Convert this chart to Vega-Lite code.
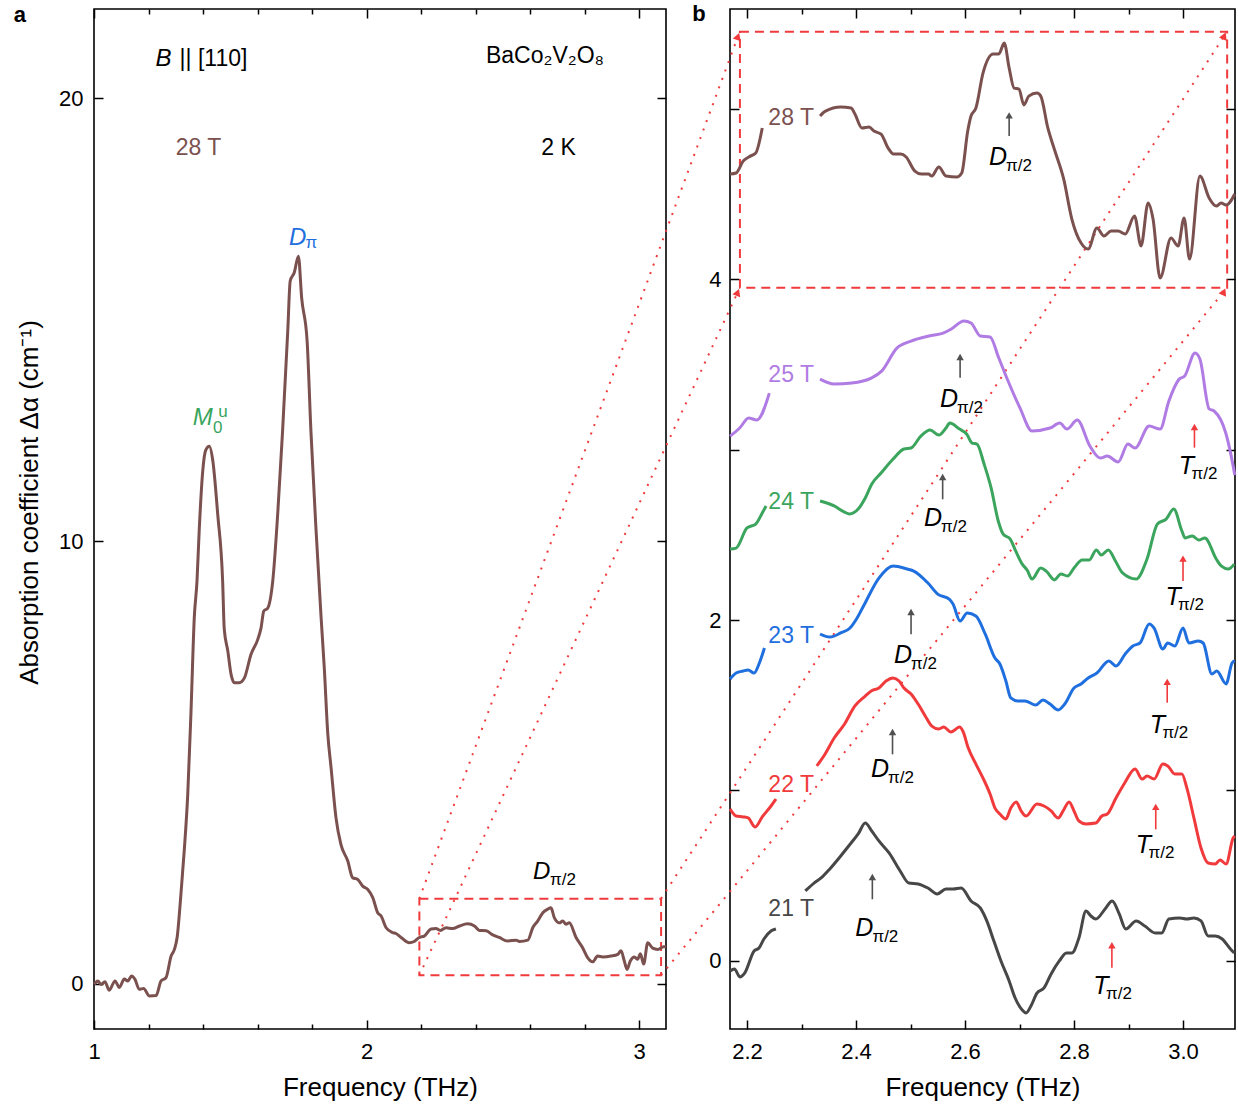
{
"$schema":"https://vega.github.io/schema/vega-lite/v6.json",
"background":"white",
"padding":{"left":13,"top":2,"right":2,"bottom":2},
"bounds":"flush",
"spacing":64,
"config":{
 "font":"Liberation Sans",
 "view":{"stroke":"#000000","strokeWidth":1.6},
 "axis":{"domain":false,"grid":false,"ticks":true,"tickSize":-9,"tickWidth":1.5,"tickColor":"#000000","labelFont":"Liberation Sans","labelFontSize":22,"labelColor":"#000000","labelFlush":false,"labelOverlap":false,"titleFont":"Liberation Sans","titleFontSize":26,"titleFontWeight":"normal","titleColor":"#000000"},
 "text":{"font":"Liberation Sans"}
},
"datasets":{
 "a":[
  {"f":1.001,"v":-0.01},{"f":1.014,"v":0.07},{"f":1.026,"v":-0.01},{"f":1.040,"v":0.05},{"f":1.056,"v":-0.14},{"f":1.077,"v":0.07},{"f":1.093,"v":-0.08},{"f":1.111,"v":0.11},{"f":1.124,"v":0.07},{"f":1.138,"v":0.18},{"f":1.150,"v":0.11},{"f":1.166,"v":-0.12},{"f":1.182,"v":-0.10},{"f":1.203,"v":-0.27},{"f":1.228,"v":-0.26},{"f":1.246,"v":0.07},{"f":1.264,"v":0.14},{"f":1.283,"v":0.63},{"f":1.295,"v":0.78},{"f":1.305,"v":1.05},{"f":1.319,"v":2.03},{"f":1.331,"v":3.00},{"f":1.344,"v":4.28},{"f":1.356,"v":6.16},{"f":1.368,"v":8.27},{"f":1.378,"v":9.1},{"f":1.386,"v":10.23},{"f":1.399,"v":11.58},{"f":1.410,"v":12.05},{"f":1.423,"v":12.14},{"f":1.436,"v":11.81},{"f":1.454,"v":10.60},{"f":1.472,"v":9.10},{"f":1.478,"v":8.01},{"f":1.491,"v":7.52},{"f":1.503,"v":6.99},{"f":1.515,"v":6.80},{"f":1.533,"v":6.80},{"f":1.552,"v":6.91},{"f":1.576,"v":7.44},{"f":1.601,"v":7.78},{"f":1.613,"v":8.04},{"f":1.623,"v":8.42},{"f":1.637,"v":8.48},{"f":1.656,"v":9.10},{"f":1.674,"v":10.60},{"f":1.692,"v":12.48},{"f":1.711,"v":14.74},{"f":1.720,"v":15.87},{"f":1.735,"v":16.06},{"f":1.750,"v":16.43},{"f":1.762,"v":15.49},{"f":1.782,"v":14.52},{"f":1.796,"v":12.48},{"f":1.815,"v":10.23},{"f":1.833,"v":8.31},{"f":1.845,"v":7.14},{"f":1.858,"v":5.64},{"f":1.870,"v":4.88},{"f":1.888,"v":3.75},{"f":1.906,"v":3.15},{"f":1.931,"v":2.78},{"f":1.949,"v":2.40},{"f":1.968,"v":2.36},{"f":1.986,"v":2.21},{"f":2.004,"v":2.14},{"f":2.023,"v":1.95},{"f":2.041,"v":1.61},{"f":2.053,"v":1.54},{"f":2.072,"v":1.27},{"f":2.096,"v":1.16},{"f":2.108,"v":1.14},{"f":2.127,"v":1.05},{"f":2.157,"v":0.93},{"f":2.175,"v":0.96},{"f":2.194,"v":1.05},{"f":2.212,"v":1.08},{"f":2.237,"v":1.24},{"f":2.255,"v":1.25},{"f":2.271,"v":1.21},{"f":2.292,"v":1.27},{"f":2.316,"v":1.25},{"f":2.341,"v":1.31},{"f":2.371,"v":1.36},{"f":2.396,"v":1.31},{"f":2.414,"v":1.21},{"f":2.439,"v":1.20},{"f":2.463,"v":1.11},{"f":2.487,"v":1.05},{"f":2.518,"v":0.97},{"f":2.549,"v":0.99},{"f":2.561,"v":0.96},{"f":2.592,"v":0.99},{"f":2.610,"v":1.27},{"f":2.628,"v":1.42},{"f":2.647,"v":1.61},{"f":2.665,"v":1.69},{"f":2.677,"v":1.72},{"f":2.689,"v":1.50},{"f":2.708,"v":1.38},{"f":2.720,"v":1.42},{"f":2.732,"v":1.35},{"f":2.744,"v":1.38},{"f":2.769,"v":1.05},{"f":2.793,"v":0.82},{"f":2.812,"v":0.59},{"f":2.830,"v":0.50},{"f":2.848,"v":0.63},{"f":2.867,"v":0.61},{"f":2.897,"v":0.63},{"f":2.922,"v":0.67},{"f":2.934,"v":0.75},{"f":2.946,"v":0.52},{"f":2.956,"v":0.33},{"f":2.968,"v":0.52},{"f":2.983,"v":0.61},{"f":2.995,"v":0.56},{"f":3.005,"v":0.68},{"f":3.017,"v":0.45},{"f":3.032,"v":0.93},{"f":3.050,"v":0.81},{"f":3.069,"v":0.78},{"f":3.090,"v":0.84},{"f":3.099,"v":0.84}
 ],
 "b":[
  {"B":"28 T","s":1,"f":2.169,"v":4.616},{"B":"28 T","s":1,"f":2.180,"v":4.622},{"B":"28 T","s":1,"f":2.193,"v":4.692},{"B":"28 T","s":1,"f":2.206,"v":4.721},{"B":"28 T","s":1,"f":2.216,"v":4.739},{"B":"28 T","s":1,"f":2.228,"v":4.886},
  {"B":"28 T","s":2,"f":2.334,"v":4.956},{"B":"28 T","s":2,"f":2.344,"v":4.985},{"B":"28 T","s":2,"f":2.372,"v":5.009},{"B":"28 T","s":2,"f":2.391,"v":5.003},{"B":"28 T","s":2,"f":2.398,"v":4.968},{"B":"28 T","s":2,"f":2.411,"v":4.886},{"B":"28 T","s":2,"f":2.424,"v":4.892},{"B":"28 T","s":2,"f":2.433,"v":4.868},{"B":"28 T","s":2,"f":2.446,"v":4.850},{"B":"28 T","s":2,"f":2.459,"v":4.768},{"B":"28 T","s":2,"f":2.469,"v":4.733},{"B":"28 T","s":2,"f":2.482,"v":4.733},{"B":"28 T","s":2,"f":2.492,"v":4.716},{"B":"28 T","s":2,"f":2.508,"v":4.633},{"B":"28 T","s":2,"f":2.520,"v":4.616},{"B":"28 T","s":2,"f":2.533,"v":4.616},{"B":"28 T","s":2,"f":2.539,"v":4.604},{"B":"28 T","s":2,"f":2.552,"v":4.657},{"B":"28 T","s":2,"f":2.565,"v":4.604},{"B":"28 T","s":2,"f":2.585,"v":4.598},{"B":"28 T","s":2,"f":2.594,"v":4.622},{"B":"28 T","s":2,"f":2.605,"v":4.868},{"B":"28 T","s":2,"f":2.611,"v":4.956},{"B":"28 T","s":2,"f":2.620,"v":5.003},{"B":"28 T","s":2,"f":2.633,"v":5.208},{"B":"28 T","s":2,"f":2.652,"v":5.320},{"B":"28 T","s":2,"f":2.662,"v":5.320},{"B":"28 T","s":2,"f":2.672,"v":5.384},{"B":"28 T","s":2,"f":2.681,"v":5.238},{"B":"28 T","s":2,"f":2.690,"v":5.120},{"B":"28 T","s":2,"f":2.699,"v":5.114},{"B":"28 T","s":2,"f":2.708,"v":5.021},{"B":"28 T","s":2,"f":2.717,"v":5.073},{"B":"28 T","s":2,"f":2.732,"v":5.091},{"B":"28 T","s":2,"f":2.739,"v":5.073},{"B":"28 T","s":2,"f":2.752,"v":4.886},{"B":"28 T","s":2,"f":2.765,"v":4.751},{"B":"28 T","s":2,"f":2.781,"v":4.587},{"B":"28 T","s":2,"f":2.796,"v":4.352},{"B":"28 T","s":2,"f":2.813,"v":4.211},{"B":"28 T","s":2,"f":2.826,"v":4.176},{"B":"28 T","s":2,"f":2.842,"v":4.299},{"B":"28 T","s":2,"f":2.855,"v":4.252},{"B":"28 T","s":2,"f":2.868,"v":4.282},{"B":"28 T","s":2,"f":2.881,"v":4.282},{"B":"28 T","s":2,"f":2.894,"v":4.264},{"B":"28 T","s":2,"f":2.911,"v":4.370},{"B":"28 T","s":2,"f":2.923,"v":4.194},{"B":"28 T","s":2,"f":2.936,"v":4.446},{"B":"28 T","s":2,"f":2.945,"v":4.352},{"B":"28 T","s":2,"f":2.958,"v":4.006},{"B":"28 T","s":2,"f":2.978,"v":4.241},{"B":"28 T","s":2,"f":2.991,"v":4.194},{"B":"28 T","s":2,"f":3.002,"v":4.358},{"B":"28 T","s":2,"f":3.012,"v":4.117},{"B":"28 T","s":2,"f":3.031,"v":4.604},{"B":"28 T","s":2,"f":3.048,"v":4.475},{"B":"28 T","s":2,"f":3.061,"v":4.428},{"B":"28 T","s":2,"f":3.070,"v":4.446},{"B":"28 T","s":2,"f":3.079,"v":4.434},{"B":"28 T","s":2,"f":3.095,"v":4.499},
  {"B":"25 T","s":1,"f":2.169,"v":3.079},{"B":"25 T","s":1,"f":2.187,"v":3.128},{"B":"25 T","s":1,"f":2.203,"v":3.185},{"B":"25 T","s":1,"f":2.218,"v":3.173},{"B":"25 T","s":1,"f":2.241,"v":3.331},
  {"B":"25 T","s":2,"f":2.334,"v":3.413},{"B":"25 T","s":2,"f":2.360,"v":3.384},{"B":"25 T","s":2,"f":2.392,"v":3.390},{"B":"25 T","s":2,"f":2.428,"v":3.419},{"B":"25 T","s":2,"f":2.447,"v":3.460},{"B":"25 T","s":2,"f":2.475,"v":3.595},{"B":"25 T","s":2,"f":2.501,"v":3.636},{"B":"25 T","s":2,"f":2.534,"v":3.666},{"B":"25 T","s":2,"f":2.560,"v":3.683},{"B":"25 T","s":2,"f":2.575,"v":3.707},{"B":"25 T","s":2,"f":2.598,"v":3.754},{"B":"25 T","s":2,"f":2.611,"v":3.742},{"B":"25 T","s":2,"f":2.628,"v":3.666},{"B":"25 T","s":2,"f":2.646,"v":3.660},{"B":"25 T","s":2,"f":2.662,"v":3.537},{"B":"25 T","s":2,"f":2.679,"v":3.402},{"B":"25 T","s":2,"f":2.701,"v":3.243},{"B":"25 T","s":2,"f":2.723,"v":3.109},{"B":"25 T","s":2,"f":2.756,"v":3.126},{"B":"25 T","s":2,"f":2.774,"v":3.155},{"B":"25 T","s":2,"f":2.787,"v":3.120},{"B":"25 T","s":2,"f":2.806,"v":3.173},{"B":"25 T","s":2,"f":2.829,"v":3.021},{"B":"25 T","s":2,"f":2.848,"v":2.950},{"B":"25 T","s":2,"f":2.861,"v":2.962},{"B":"25 T","s":2,"f":2.881,"v":2.927},{"B":"25 T","s":2,"f":2.899,"v":3.032},{"B":"25 T","s":2,"f":2.912,"v":3.009},{"B":"25 T","s":2,"f":2.938,"v":3.138},{"B":"25 T","s":2,"f":2.958,"v":3.120},{"B":"25 T","s":2,"f":2.974,"v":3.284},{"B":"25 T","s":2,"f":2.993,"v":3.413},{"B":"25 T","s":2,"f":3.003,"v":3.431},{"B":"25 T","s":2,"f":3.022,"v":3.566},{"B":"25 T","s":2,"f":3.031,"v":3.531},{"B":"25 T","s":2,"f":3.048,"v":3.238},{"B":"25 T","s":2,"f":3.057,"v":3.226},{"B":"25 T","s":2,"f":3.079,"v":3.091},{"B":"25 T","s":2,"f":3.092,"v":2.903},{"B":"25 T","s":2,"f":3.095,"v":2.85},
  {"B":"24 T","s":1,"f":2.169,"v":2.416},{"B":"24 T","s":1,"f":2.180,"v":2.422},{"B":"24 T","s":1,"f":2.200,"v":2.540},{"B":"24 T","s":1,"f":2.216,"v":2.563},{"B":"24 T","s":1,"f":2.228,"v":2.628},{"B":"24 T","s":1,"f":2.235,"v":2.669},
  {"B":"24 T","s":2,"f":2.334,"v":2.698},{"B":"24 T","s":2,"f":2.360,"v":2.669},{"B":"24 T","s":2,"f":2.379,"v":2.633},{"B":"24 T","s":2,"f":2.388,"v":2.622},{"B":"24 T","s":2,"f":2.404,"v":2.651},{"B":"24 T","s":2,"f":2.417,"v":2.716},{"B":"24 T","s":2,"f":2.429,"v":2.798},{"B":"24 T","s":2,"f":2.446,"v":2.862},{"B":"24 T","s":2,"f":2.468,"v":2.944},{"B":"24 T","s":2,"f":2.488,"v":3.003},{"B":"24 T","s":2,"f":2.501,"v":3.009},{"B":"24 T","s":2,"f":2.519,"v":3.079},{"B":"24 T","s":2,"f":2.536,"v":3.114},{"B":"24 T","s":2,"f":2.552,"v":3.085},{"B":"24 T","s":2,"f":2.565,"v":3.126},{"B":"24 T","s":2,"f":2.572,"v":3.155},{"B":"24 T","s":2,"f":2.590,"v":3.120},{"B":"24 T","s":2,"f":2.603,"v":3.091},{"B":"24 T","s":2,"f":2.613,"v":3.038},{"B":"24 T","s":2,"f":2.622,"v":3.032},{"B":"24 T","s":2,"f":2.635,"v":2.915},{"B":"24 T","s":2,"f":2.648,"v":2.774},{"B":"24 T","s":2,"f":2.661,"v":2.581},{"B":"24 T","s":2,"f":2.670,"v":2.504},{"B":"24 T","s":2,"f":2.683,"v":2.475},{"B":"24 T","s":2,"f":2.693,"v":2.405},{"B":"24 T","s":2,"f":2.705,"v":2.328},{"B":"24 T","s":2,"f":2.714,"v":2.293},{"B":"24 T","s":2,"f":2.723,"v":2.240},{"B":"24 T","s":2,"f":2.739,"v":2.305},{"B":"24 T","s":2,"f":2.749,"v":2.287},{"B":"24 T","s":2,"f":2.764,"v":2.235},{"B":"24 T","s":2,"f":2.776,"v":2.270},{"B":"24 T","s":2,"f":2.788,"v":2.258},{"B":"24 T","s":2,"f":2.800,"v":2.305},{"B":"24 T","s":2,"f":2.815,"v":2.352},{"B":"24 T","s":2,"f":2.828,"v":2.352},{"B":"24 T","s":2,"f":2.841,"v":2.411},{"B":"24 T","s":2,"f":2.850,"v":2.381},{"B":"24 T","s":2,"f":2.863,"v":2.411},{"B":"24 T","s":2,"f":2.876,"v":2.346},{"B":"24 T","s":2,"f":2.889,"v":2.276},{"B":"24 T","s":2,"f":2.914,"v":2.240},{"B":"24 T","s":2,"f":2.934,"v":2.358},{"B":"24 T","s":2,"f":2.953,"v":2.563},{"B":"24 T","s":2,"f":2.969,"v":2.592},{"B":"24 T","s":2,"f":2.983,"v":2.651},{"B":"24 T","s":2,"f":2.998,"v":2.522},{"B":"24 T","s":2,"f":3.004,"v":2.481},{"B":"24 T","s":2,"f":3.017,"v":2.493},{"B":"24 T","s":2,"f":3.029,"v":2.469},{"B":"24 T","s":2,"f":3.040,"v":2.481},{"B":"24 T","s":2,"f":3.061,"v":2.358},{"B":"24 T","s":2,"f":3.070,"v":2.317},{"B":"24 T","s":2,"f":3.083,"v":2.299},{"B":"24 T","s":2,"f":3.094,"v":2.328},
  {"B":"23 T","s":1,"f":2.169,"v":1.654},{"B":"23 T","s":1,"f":2.180,"v":1.689},{"B":"23 T","s":1,"f":2.193,"v":1.701},{"B":"23 T","s":1,"f":2.202,"v":1.707},{"B":"23 T","s":1,"f":2.213,"v":1.689},{"B":"23 T","s":1,"f":2.222,"v":1.742},{"B":"23 T","s":1,"f":2.232,"v":1.836},
  {"B":"23 T","s":2,"f":2.334,"v":1.918},{"B":"23 T","s":2,"f":2.352,"v":1.900},{"B":"23 T","s":2,"f":2.372,"v":1.924},{"B":"23 T","s":2,"f":2.389,"v":1.953},{"B":"23 T","s":2,"f":2.402,"v":2.012},{"B":"23 T","s":2,"f":2.415,"v":2.090},{"B":"23 T","s":2,"f":2.442,"v":2.246},{"B":"23 T","s":2,"f":2.468,"v":2.317},{"B":"23 T","s":2,"f":2.494,"v":2.299},{"B":"23 T","s":2,"f":2.506,"v":2.287},{"B":"23 T","s":2,"f":2.532,"v":2.217},{"B":"23 T","s":2,"f":2.550,"v":2.152},{"B":"23 T","s":2,"f":2.571,"v":2.123},{"B":"23 T","s":2,"f":2.578,"v":2.094},{"B":"23 T","s":2,"f":2.591,"v":1.994},{"B":"23 T","s":2,"f":2.604,"v":2.041},{"B":"23 T","s":2,"f":2.620,"v":2.023},{"B":"23 T","s":2,"f":2.637,"v":1.918},{"B":"23 T","s":2,"f":2.655,"v":1.777},{"B":"23 T","s":2,"f":2.664,"v":1.742},{"B":"23 T","s":2,"f":2.675,"v":1.642},{"B":"23 T","s":2,"f":2.684,"v":1.543},{"B":"23 T","s":2,"f":2.697,"v":1.525},{"B":"23 T","s":2,"f":2.710,"v":1.525},{"B":"23 T","s":2,"f":2.730,"v":1.501},{"B":"23 T","s":2,"f":2.743,"v":1.531},{"B":"23 T","s":2,"f":2.756,"v":1.507},{"B":"23 T","s":2,"f":2.771,"v":1.472},{"B":"23 T","s":2,"f":2.783,"v":1.507},{"B":"23 T","s":2,"f":2.800,"v":1.601},{"B":"23 T","s":2,"f":2.813,"v":1.625},{"B":"23 T","s":2,"f":2.826,"v":1.660},{"B":"23 T","s":2,"f":2.842,"v":1.689},{"B":"23 T","s":2,"f":2.864,"v":1.760},{"B":"23 T","s":2,"f":2.877,"v":1.730},{"B":"23 T","s":2,"f":2.894,"v":1.801},{"B":"23 T","s":2,"f":2.908,"v":1.848},{"B":"23 T","s":2,"f":2.921,"v":1.865},{"B":"23 T","s":2,"f":2.938,"v":1.977},{"B":"23 T","s":2,"f":2.947,"v":1.953},{"B":"23 T","s":2,"f":2.963,"v":1.830},{"B":"23 T","s":2,"f":2.972,"v":1.865},{"B":"23 T","s":2,"f":2.985,"v":1.848},{"B":"23 T","s":2,"f":3.000,"v":1.953},{"B":"23 T","s":2,"f":3.011,"v":1.865},{"B":"23 T","s":2,"f":3.028,"v":1.877},{"B":"23 T","s":2,"f":3.037,"v":1.865},{"B":"23 T","s":2,"f":3.053,"v":1.683},{"B":"23 T","s":2,"f":3.062,"v":1.701},{"B":"23 T","s":2,"f":3.079,"v":1.625},{"B":"23 T","s":2,"f":3.090,"v":1.748},{"B":"23 T","s":2,"f":3.095,"v":1.760},
  {"B":"22 T","s":1,"f":2.169,"v":0.891},{"B":"22 T","s":1,"f":2.180,"v":0.850},{"B":"22 T","s":1,"f":2.193,"v":0.845},{"B":"22 T","s":1,"f":2.202,"v":0.839},{"B":"22 T","s":1,"f":2.215,"v":0.786},{"B":"22 T","s":1,"f":2.228,"v":0.845},{"B":"22 T","s":1,"f":2.244,"v":0.909},{"B":"22 T","s":1,"f":2.253,"v":0.950},
  {"B":"22 T","s":2,"f":2.328,"v":1.144},{"B":"22 T","s":2,"f":2.341,"v":1.202},{"B":"22 T","s":2,"f":2.360,"v":1.308},{"B":"22 T","s":2,"f":2.379,"v":1.390},{"B":"22 T","s":2,"f":2.398,"v":1.496},{"B":"22 T","s":2,"f":2.417,"v":1.554},{"B":"22 T","s":2,"f":2.428,"v":1.584},{"B":"22 T","s":2,"f":2.442,"v":1.601},{"B":"22 T","s":2,"f":2.455,"v":1.642},{"B":"22 T","s":2,"f":2.468,"v":1.660},{"B":"22 T","s":2,"f":2.479,"v":1.642},{"B":"22 T","s":2,"f":2.488,"v":1.601},{"B":"22 T","s":2,"f":2.501,"v":1.566},{"B":"22 T","s":2,"f":2.514,"v":1.507},{"B":"22 T","s":2,"f":2.527,"v":1.437},{"B":"22 T","s":2,"f":2.539,"v":1.378},{"B":"22 T","s":2,"f":2.552,"v":1.361},{"B":"22 T","s":2,"f":2.561,"v":1.372},{"B":"22 T","s":2,"f":2.574,"v":1.343},{"B":"22 T","s":2,"f":2.590,"v":1.372},{"B":"22 T","s":2,"f":2.596,"v":1.349},{"B":"22 T","s":2,"f":2.606,"v":1.249},{"B":"22 T","s":2,"f":2.620,"v":1.155},{"B":"22 T","s":2,"f":2.633,"v":1.073},{"B":"22 T","s":2,"f":2.646,"v":0.979},{"B":"22 T","s":2,"f":2.655,"v":0.897},{"B":"22 T","s":2,"f":2.664,"v":0.862},{"B":"22 T","s":2,"f":2.675,"v":0.833},{"B":"22 T","s":2,"f":2.684,"v":0.897},{"B":"22 T","s":2,"f":2.694,"v":0.933},{"B":"22 T","s":2,"f":2.703,"v":0.880},{"B":"22 T","s":2,"f":2.712,"v":0.850},{"B":"22 T","s":2,"f":2.732,"v":0.921},{"B":"22 T","s":2,"f":2.745,"v":0.909},{"B":"22 T","s":2,"f":2.758,"v":0.880},{"B":"22 T","s":2,"f":2.771,"v":0.839},{"B":"22 T","s":2,"f":2.780,"v":0.880},{"B":"22 T","s":2,"f":2.791,"v":0.933},{"B":"22 T","s":2,"f":2.800,"v":0.880},{"B":"22 T","s":2,"f":2.809,"v":0.821},{"B":"22 T","s":2,"f":2.822,"v":0.804},{"B":"22 T","s":2,"f":2.840,"v":0.809},{"B":"22 T","s":2,"f":2.851,"v":0.850},{"B":"22 T","s":2,"f":2.861,"v":0.862},{"B":"22 T","s":2,"f":2.877,"v":0.956},{"B":"22 T","s":2,"f":2.893,"v":1.044},{"B":"22 T","s":2,"f":2.912,"v":1.126},{"B":"22 T","s":2,"f":2.925,"v":1.067},{"B":"22 T","s":2,"f":2.934,"v":1.085},{"B":"22 T","s":2,"f":2.947,"v":1.067},{"B":"22 T","s":2,"f":2.963,"v":1.155},{"B":"22 T","s":2,"f":2.972,"v":1.144},{"B":"22 T","s":2,"f":2.985,"v":1.097},{"B":"22 T","s":2,"f":2.998,"v":1.097},{"B":"22 T","s":2,"f":3.007,"v":1.015},{"B":"22 T","s":2,"f":3.020,"v":0.839},{"B":"22 T","s":2,"f":3.033,"v":0.663},{"B":"22 T","s":2,"f":3.046,"v":0.575},{"B":"22 T","s":2,"f":3.059,"v":0.569},{"B":"22 T","s":2,"f":3.068,"v":0.592},{"B":"22 T","s":2,"f":3.079,"v":0.569},{"B":"22 T","s":2,"f":3.092,"v":0.721},{"B":"22 T","s":2,"f":3.095,"v":0.733},
  {"B":"21 T","s":1,"f":2.169,"v":-0.059},{"B":"21 T","s":1,"f":2.177,"v":-0.047},{"B":"21 T","s":1,"f":2.187,"v":-0.094},{"B":"21 T","s":1,"f":2.196,"v":-0.070},{"B":"21 T","s":1,"f":2.213,"v":0.059},{"B":"21 T","s":1,"f":2.222,"v":0.076},{"B":"21 T","s":1,"f":2.231,"v":0.129},{"B":"21 T","s":1,"f":2.244,"v":0.176},{"B":"21 T","s":1,"f":2.253,"v":0.188},
  {"B":"21 T","s":2,"f":2.307,"v":0.411},{"B":"21 T","s":2,"f":2.323,"v":0.457},{"B":"21 T","s":2,"f":2.336,"v":0.487},{"B":"21 T","s":2,"f":2.352,"v":0.540},{"B":"21 T","s":2,"f":2.372,"v":0.616},{"B":"21 T","s":2,"f":2.391,"v":0.692},{"B":"21 T","s":2,"f":2.404,"v":0.745},{"B":"21 T","s":2,"f":2.417,"v":0.809},{"B":"21 T","s":2,"f":2.429,"v":0.762},{"B":"21 T","s":2,"f":2.442,"v":0.704},{"B":"21 T","s":2,"f":2.461,"v":0.633},{"B":"21 T","s":2,"f":2.481,"v":0.528},{"B":"21 T","s":2,"f":2.497,"v":0.457},{"B":"21 T","s":2,"f":2.514,"v":0.452},{"B":"21 T","s":2,"f":2.532,"v":0.428},{"B":"21 T","s":2,"f":2.549,"v":0.393},{"B":"21 T","s":2,"f":2.565,"v":0.422},{"B":"21 T","s":2,"f":2.578,"v":0.422},{"B":"21 T","s":2,"f":2.593,"v":0.428},{"B":"21 T","s":2,"f":2.611,"v":0.352},{"B":"21 T","s":2,"f":2.628,"v":0.311},{"B":"21 T","s":2,"f":2.640,"v":0.235},{"B":"21 T","s":2,"f":2.653,"v":0.117},{"B":"21 T","s":2,"f":2.666,"v":0.000},{"B":"21 T","s":2,"f":2.681,"v":-0.117},{"B":"21 T","s":2,"f":2.692,"v":-0.217},{"B":"21 T","s":2,"f":2.705,"v":-0.287},{"B":"21 T","s":2,"f":2.712,"v":-0.305},{"B":"21 T","s":2,"f":2.721,"v":-0.264},{"B":"21 T","s":2,"f":2.732,"v":-0.188},{"B":"21 T","s":2,"f":2.745,"v":-0.158},{"B":"21 T","s":2,"f":2.758,"v":-0.076},{"B":"21 T","s":2,"f":2.773,"v":0.000},{"B":"21 T","s":2,"f":2.786,"v":0.047},{"B":"21 T","s":2,"f":2.796,"v":0.047},{"B":"21 T","s":2,"f":2.809,"v":0.135},{"B":"21 T","s":2,"f":2.822,"v":0.293},{"B":"21 T","s":2,"f":2.831,"v":0.264},{"B":"21 T","s":2,"f":2.840,"v":0.246},{"B":"21 T","s":2,"f":2.857,"v":0.305},{"B":"21 T","s":2,"f":2.870,"v":0.352},{"B":"21 T","s":2,"f":2.883,"v":0.276},{"B":"21 T","s":2,"f":2.895,"v":0.188},{"B":"21 T","s":2,"f":2.914,"v":0.235},{"B":"21 T","s":2,"f":2.930,"v":0.205},{"B":"21 T","s":2,"f":2.949,"v":0.164},{"B":"21 T","s":2,"f":2.961,"v":0.164},{"B":"21 T","s":2,"f":2.974,"v":0.246},{"B":"21 T","s":2,"f":2.994,"v":0.252},{"B":"21 T","s":2,"f":3.007,"v":0.246},{"B":"21 T","s":2,"f":3.020,"v":0.252},{"B":"21 T","s":2,"f":3.033,"v":0.235},{"B":"21 T","s":2,"f":3.046,"v":0.147},{"B":"21 T","s":2,"f":3.059,"v":0.147},{"B":"21 T","s":2,"f":3.072,"v":0.129},{"B":"21 T","s":2,"f":3.087,"v":0.070},{"B":"21 T","s":2,"f":3.094,"v":0.047}
 ],
 "boxA":[{"f1":2.194,"f2":3.081,"v1":0.196,"v2":1.926}],
 "boxB":[{"f1":2.187,"f2":3.081,"v1":3.949,"v2":5.45}],
 "links":[
  {"id":"L1","f":1.5987,"v":0.3654},{"id":"L1","f":2.1834,"v":5.423},
  {"id":"L2","f":1.5987,"v":-0.0839},{"id":"L2","f":2.1829,"v":3.922},
  {"id":"L3","f":2.0422,"v":0.3654},{"id":"L3","f":3.0757,"v":5.426},
  {"id":"L4","f":2.0422,"v":-0.0839},{"id":"L4","f":3.0749,"v":3.926}
 ],
 "heads":[
  {"id":"L1","f":2.1834,"v":5.423},{"id":"L2","f":2.1829,"v":3.922},{"id":"L3","f":3.0757,"v":5.426},{"id":"L4","f":3.0749,"v":3.926}
 ],
 "notesA":[
  {"k":"n","t":"28 T","f":1.3835,"v":18.88,"g":"28 T"},
  {"k":"n","t":"2 K","f":2.7046,"v":18.88,"g":"k"},
  {"k":"n","t":"|| [110]","f":1.4385,"v":20.87,"g":"k"},
  {"k":"n","t":"BaCo₂V₂O₈","f":2.655,"v":20.95,"g":"k"},
  {"k":"i","t":"B","f":1.255,"v":20.87,"g":"k"},
  {"k":"i","t":"D","f":1.7475,"v":16.83,"g":"Dπ"},
  {"k":"i","t":"M","f":1.399,"v":12.77,"g":"M"},
  {"k":"i","t":"D","f":2.643,"v":2.528,"g":"k"},
  {"k":"s","t":"π","f":1.798,"v":16.72,"g":"Dπ"},
  {"k":"s","t":"0","f":1.454,"v":12.56,"g":"M"},
  {"k":"s","t":"u","f":1.473,"v":12.91,"g":"M"},
  {"k":"s","t":"π/2","f":2.721,"v":2.35,"g":"k"}
 ],
 "fieldLabels":[
  {"B":"28 T","f":2.281,"v":4.944},{"B":"25 T","f":2.281,"v":3.440},{"B":"24 T","f":2.281,"v":2.692},{"B":"23 T","f":2.281,"v":1.906},{"B":"22 T","f":2.281,"v":1.032},{"B":"21 T","f":2.281,"v":0.305}
 ],
 "modes":[
  {"m":"D","f":2.6606,"v":4.716},{"m":"D","f":2.5706,"v":3.296},{"m":"D","f":2.5413,"v":2.600},{"m":"D","f":2.4862,"v":1.795},{"m":"D","f":2.444,"v":1.126},{"m":"D","f":2.4154,"v":0.195},
  {"m":"T","f":3.0064,"v":2.903},{"m":"T","f":2.9817,"v":2.135},{"m":"T","f":2.953,"v":1.387},{"m":"T","f":2.9275,"v":0.680},{"m":"T","f":2.8495,"v":-0.147}
 ],
 "arrows":[
  {"m":"D","f":2.681,"tail":4.839,"head":4.96},{"m":"D","f":2.591,"tail":3.421,"head":3.543},{"m":"D","f":2.559,"tail":2.708,"head":2.839},{"m":"D","f":2.501,"tail":1.916,"head":2.047},{"m":"D","f":2.467,"tail":1.212,"head":1.343},{"m":"D","f":2.430,"tail":0.362,"head":0.493},
  {"m":"T","f":3.021,"tail":3.011,"head":3.132},{"m":"T","f":3.000,"tail":2.229,"head":2.360},{"m":"T","f":2.971,"tail":1.515,"head":1.637},{"m":"T","f":2.950,"tail":0.772,"head":0.904},{"m":"T","f":2.8695,"tail":-0.039,"head":0.092}
 ]
},
"hconcat":[
 {
  "width":572,"height":1020,
  "resolve":{"axis":{"x":"independent","y":"independent"}},
  "layer":[
   {"data":{"name":"boxA"},
    "mark":{"type":"rect","fillOpacity":0,"stroke":"#f03a3c","strokeWidth":2,"strokeDash":[9,6]},
    "encoding":{
     "x":{"field":"f1","type":"quantitative","scale":{"domain":[1,3.099],"nice":false,"zero":false},"axis":{"orient":"top","values":[1,2,3],"labels":false,"title":null}},
     "x2":{"field":"f2"},
     "y":{"field":"v1","type":"quantitative","scale":{"domain":[-1.016,22.01],"nice":false,"zero":false},"axis":{"orient":"right","values":[0,10,20],"labels":false,"title":null}},
     "y2":{"field":"v2"}}},
   {"data":{"name":"a"},
    "mark":{"type":"line","color":"#7b514f","strokeWidth":3,"interpolate":"monotone"},
    "encoding":{
     "x":{"field":"f","type":"quantitative","scale":{"domain":[1,3.099],"nice":false,"zero":false},"axis":{"orient":"bottom","values":[1,2,3],"format":".0f","title":"Frequency (THz)","labelPadding":21,"titlePadding":12}},
     "y":{"field":"v","type":"quantitative","scale":{"domain":[-1.016,22.01],"nice":false,"zero":false},"axis":{"orient":"left","values":[0,10,20],"format":".0f","title":"Absorption coefficient Δα (cm⁻¹)","labelPadding":20,"titlePadding":16,"titleY":493}}}},
   {"data":{"name":"notesA"},"transform":[{"filter":"datum.k === 'n'"}],
    "mark":{"type":"text","fontSize":23,"baseline":"middle","align":"center"},
    "encoding":{
     "x":{"field":"f","type":"quantitative","scale":{"domain":[1,3.099],"nice":false,"zero":false},"axis":{"orient":"bottom","values":[1.2,1.4,1.6,1.8,2.2,2.4,2.6,2.8],"tickSize":-5,"labels":false,"title":null}},
     "y":{"field":"v","type":"quantitative","scale":{"domain":[-1.016,22.01],"nice":false,"zero":false},"axis":null},
     "text":{"field":"t"},
     "color":{"field":"g","type":"nominal","scale":{"domain":["21 T","22 T","23 T","24 T","25 T","28 T","D","T","k","Dπ","M"],"range":["#474747","#f03a3c","#1f6fde","#3ba55d","#b07ce4","#7b514f","#505050","#f03a3c","#000000","#1f6fde","#3ba55d"]},"legend":null}}},
   {"data":{"name":"notesA"},"transform":[{"filter":"datum.k === 'i'"}],
    "mark":{"type":"text","fontSize":24,"fontStyle":"italic","baseline":"middle","align":"center"},
    "encoding":{
     "x":{"field":"f","type":"quantitative","scale":{"domain":[1,3.099],"nice":false,"zero":false},"axis":{"orient":"top","values":[1.2,1.4,1.6,1.8,2.2,2.4,2.6,2.8],"tickSize":-5,"labels":false,"title":null}},
     "y":{"field":"v","type":"quantitative","scale":{"domain":[-1.016,22.01],"nice":false,"zero":false},"axis":null},
     "text":{"field":"t"},
     "color":{"field":"g","type":"nominal","scale":{"domain":["21 T","22 T","23 T","24 T","25 T","28 T","D","T","k","Dπ","M"],"range":["#474747","#f03a3c","#1f6fde","#3ba55d","#b07ce4","#7b514f","#505050","#f03a3c","#000000","#1f6fde","#3ba55d"]},"legend":null}}},
   {"data":{"name":"notesA"},"transform":[{"filter":"datum.k === 's'"}],
    "mark":{"type":"text","fontSize":17,"baseline":"middle","align":"center"},
    "encoding":{
     "x":{"field":"f","type":"quantitative","scale":{"domain":[1,3.099],"nice":false,"zero":false},"axis":null},
     "y":{"field":"v","type":"quantitative","scale":{"domain":[-1.016,22.01],"nice":false,"zero":false},"axis":null},
     "text":{"field":"t"},
     "color":{"field":"g","type":"nominal","scale":{"domain":["21 T","22 T","23 T","24 T","25 T","28 T","D","T","k","Dπ","M"],"range":["#474747","#f03a3c","#1f6fde","#3ba55d","#b07ce4","#7b514f","#505050","#f03a3c","#000000","#1f6fde","#3ba55d"]},"legend":null}}},
   {"data":{"values":[{"t":"a","f":0.7284,"v":21.87}]},
    "mark":{"type":"text","fontSize":22,"fontWeight":"bold","baseline":"middle","align":"center","color":"#000000"},
    "encoding":{
     "x":{"field":"f","type":"quantitative","scale":{"domain":[1,3.099],"nice":false,"zero":false},"axis":null},
     "y":{"field":"v","type":"quantitative","scale":{"domain":[-1.016,22.01],"nice":false,"zero":false},"axis":null},
     "text":{"field":"t"}}}
  ]
 },
 {
  "width":505,"height":1020,
  "resolve":{"axis":{"x":"independent","y":"independent"}},
  "layer":[
   {"data":{"name":"boxB"},
    "mark":{"type":"rect","fillOpacity":0,"stroke":"#f03a3c","strokeWidth":2,"strokeDash":[9,6]},
    "encoding":{
     "x":{"field":"f1","type":"quantitative","scale":{"domain":[2.1688,3.0954],"nice":false,"zero":false},"axis":{"orient":"top","values":[2.2,2.4,2.6,2.8,3.0],"labels":false,"title":null}},
     "x2":{"field":"f2"},
     "y":{"field":"v1","type":"quantitative","scale":{"domain":[-0.399,5.584],"nice":false,"zero":false},"axis":{"orient":"right","values":[0,1,2,3,4,5],"labels":false,"title":null}},
     "y2":{"field":"v2"}}},
   {"data":{"name":"links"},
    "mark":{"type":"line","color":"#f03a3c","strokeWidth":2,"strokeDash":[2,7]},
    "encoding":{
     "x":{"field":"f","type":"quantitative","scale":{"domain":[2.1688,3.0954],"nice":false,"zero":false},"axis":null},
     "y":{"field":"v","type":"quantitative","scale":{"domain":[-0.399,5.584],"nice":false,"zero":false},"axis":null},
     "detail":{"field":"id"}}},
   {"data":{"name":"heads"},
    "mark":{"type":"point","shape":"triangle-up","filled":true,"opacity":1,"size":70,"color":"#f03a3c"},
    "encoding":{
     "x":{"field":"f","type":"quantitative","scale":{"domain":[2.1688,3.0954],"nice":false,"zero":false},"axis":null},
     "y":{"field":"v","type":"quantitative","scale":{"domain":[-0.399,5.584],"nice":false,"zero":false},"axis":null},
     "angle":{"field":"id","type":"ordinal","scale":{"domain":["L1","L2","L3","L4"],"range":[20,25,33,39]},"legend":null}}},
   {"data":{"name":"b"},
    "mark":{"type":"line","strokeWidth":3,"interpolate":"monotone"},
    "encoding":{
     "x":{"field":"f","type":"quantitative","scale":{"domain":[2.1688,3.0954],"nice":false,"zero":false},"axis":{"orient":"bottom","values":[2.2,2.4,2.6,2.8,3.0],"format":".1f","title":"Frequency (THz)","labelPadding":21,"titlePadding":12}},
     "y":{"field":"v","type":"quantitative","scale":{"domain":[-0.399,5.584],"nice":false,"zero":false},"axis":{"orient":"left","values":[0,1,2,3,4,5],"labelExpr":"datum.value % 2 === 0 ? datum.label : ''","title":null,"labelPadding":18}},
     "color":{"field":"B","type":"nominal","scale":{"domain":["21 T","22 T","23 T","24 T","25 T","28 T","D","T","k","Dπ","M"],"range":["#474747","#f03a3c","#1f6fde","#3ba55d","#b07ce4","#7b514f","#505050","#f03a3c","#000000","#1f6fde","#3ba55d"]},"legend":null},
     "detail":[{"field":"B"},{"field":"s"}]}},
   {"data":{"name":"fieldLabels"},
    "mark":{"type":"text","fontSize":23,"baseline":"middle","align":"center"},
    "encoding":{
     "x":{"field":"f","type":"quantitative","scale":{"domain":[2.1688,3.0954],"nice":false,"zero":false},"axis":{"orient":"bottom","values":[2.3,2.5,2.7,2.9],"tickSize":-5,"labels":false,"title":null}},
     "y":{"field":"v","type":"quantitative","scale":{"domain":[-0.399,5.584],"nice":false,"zero":false},"axis":null},
     "text":{"field":"B"},
     "color":{"field":"B","type":"nominal","scale":{"domain":["21 T","22 T","23 T","24 T","25 T","28 T","D","T","k","Dπ","M"],"range":["#474747","#f03a3c","#1f6fde","#3ba55d","#b07ce4","#7b514f","#505050","#f03a3c","#000000","#1f6fde","#3ba55d"]},"legend":null}}},
   {"data":{"name":"arrows"},
    "mark":{"type":"rule","strokeWidth":1.6},
    "encoding":{
     "x":{"field":"f","type":"quantitative","scale":{"domain":[2.1688,3.0954],"nice":false,"zero":false},"axis":{"orient":"top","values":[2.3,2.5,2.7,2.9],"tickSize":-5,"labels":false,"title":null}},
     "y":{"field":"tail","type":"quantitative","scale":{"domain":[-0.399,5.584],"nice":false,"zero":false},"axis":null},
     "y2":{"field":"head"},
     "color":{"field":"m","type":"nominal","scale":{"domain":["21 T","22 T","23 T","24 T","25 T","28 T","D","T","k","Dπ","M"],"range":["#474747","#f03a3c","#1f6fde","#3ba55d","#b07ce4","#7b514f","#505050","#f03a3c","#000000","#1f6fde","#3ba55d"]},"legend":null}}},
   {"data":{"name":"arrows"},
    "mark":{"type":"point","shape":"triangle-up","filled":true,"opacity":1,"size":55},
    "encoding":{
     "x":{"field":"f","type":"quantitative","scale":{"domain":[2.1688,3.0954],"nice":false,"zero":false},"axis":null},
     "y":{"field":"head","type":"quantitative","scale":{"domain":[-0.399,5.584],"nice":false,"zero":false},"axis":null},
     "color":{"field":"m","type":"nominal","scale":{"domain":["21 T","22 T","23 T","24 T","25 T","28 T","D","T","k","Dπ","M"],"range":["#474747","#f03a3c","#1f6fde","#3ba55d","#b07ce4","#7b514f","#505050","#f03a3c","#000000","#1f6fde","#3ba55d"]},"legend":null}}},
   {"data":{"name":"modes"},
    "mark":{"type":"text","fontSize":25,"fontStyle":"italic","baseline":"middle","align":"center","color":"#000000"},
    "encoding":{
     "x":{"field":"f","type":"quantitative","scale":{"domain":[2.1688,3.0954],"nice":false,"zero":false},"axis":null},
     "y":{"field":"v","type":"quantitative","scale":{"domain":[-0.399,5.584],"nice":false,"zero":false},"axis":null},
     "text":{"field":"m"}}},
   {"data":{"name":"modes"},"transform":[{"filter":"datum.m === 'D'"}],
    "mark":{"type":"text","fontSize":17,"baseline":"middle","align":"left","color":"#000000","dx":8,"dy":9},
    "encoding":{
     "x":{"field":"f","type":"quantitative","scale":{"domain":[2.1688,3.0954],"nice":false,"zero":false},"axis":null},
     "y":{"field":"v","type":"quantitative","scale":{"domain":[-0.399,5.584],"nice":false,"zero":false},"axis":null},
     "text":{"value":"π/2"}}},
   {"data":{"name":"modes"},"transform":[{"filter":"datum.m === 'T'"}],
    "mark":{"type":"text","fontSize":17,"baseline":"middle","align":"left","color":"#000000","dx":5,"dy":8},
    "encoding":{
     "x":{"field":"f","type":"quantitative","scale":{"domain":[2.1688,3.0954],"nice":false,"zero":false},"axis":null},
     "y":{"field":"v","type":"quantitative","scale":{"domain":[-0.399,5.584],"nice":false,"zero":false},"axis":null},
     "text":{"value":"π/2"}}},
   {"data":{"values":[{"t":"b","f":2.1119,"v":5.554}]},
    "mark":{"type":"text","fontSize":22,"fontWeight":"bold","baseline":"middle","align":"center","color":"#000000"},
    "encoding":{
     "x":{"field":"f","type":"quantitative","scale":{"domain":[2.1688,3.0954],"nice":false,"zero":false},"axis":null},
     "y":{"field":"v","type":"quantitative","scale":{"domain":[-0.399,5.584],"nice":false,"zero":false},"axis":null},
     "text":{"field":"t"}}}
  ]
 }
]
}
